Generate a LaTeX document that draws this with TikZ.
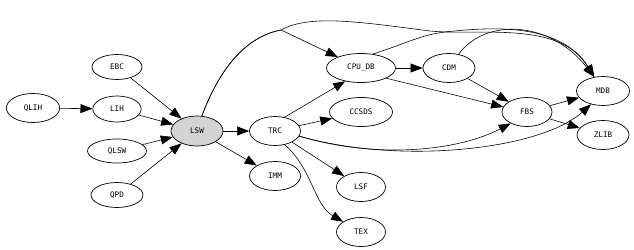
\documentclass[tikz,border=0pt]{standalone}
\usepackage{fontspec}
\setmonofont{DejaVu Sans Mono}
\usepackage{tikz}
\usetikzlibrary{arrows.meta, shapes.geometric}
\definecolor{lswgray}{HTML}{D3D3D3}

\begin{document}
\begin{tikzpicture}[x=0.03cm, y=-0.03cm,
    module/.style={draw, ellipse, line width=0.6pt, inner sep=0pt, minimum width=1.53cm, minimum height=0.87cm, font=\ttfamily\fontsize{6.5}{7}\selectfont},
    edge/.style={line width=0.5pt, -{Triangle[length=0.36cm, width=0.27cm]}}]
    \useasboundingbox (0,0) rectangle (634,250);

    % left column
    \node[module, minimum width=1.6cm] (qlih) at (33,108) {QLIH};
    \node[module, minimum width=1.5cm, minimum height=0.75cm] (ebc) at (117,67) {EBC};
    \node[module, minimum width=1.45cm, minimum height=0.78cm] (lih) at (117,109) {LIH};
    \node[module, minimum width=1.77cm, minimum height=0.72cm] (qlsw) at (117,151) {QLSW};
    \node[module, minimum width=1.56cm, minimum height=0.75cm] (qpd) at (117,195) {QPD};
    \node[module, fill=lswgray, minimum width=1.56cm, minimum height=0.9cm] (lsw) at (197,131) {LSW};

    % middle
    \node[module] (trc) at (275,131) {TRC};
    \node[module] (imm) at (275,176) {IMM};
    \node[module, minimum width=2.07cm] (cpudb) at (361,68) {CPU\_DB};
    \node[module, minimum width=1.89cm] (ccsds) at (361,112) {CCSDS};
    \node[module, minimum width=1.47cm] (lsf) at (361,187) {LSF};
    \node[module, minimum width=1.47cm] (tex) at (361,232) {TEX};

    % right
    \node[module, minimum width=1.56cm] (cdm) at (449,68) {CDM};
    \node[module, minimum width=1.5cm] (fbs) at (527,112) {FBS};
    \node[module, minimum width=1.59cm] (mdb) at (603,91) {MDB};
    \node[module, minimum width=1.56cm] (zlib) at (603,135) {ZLIB};

    \coordinate (fork) at (281,30);

    \draw[edge] (qlih) -- (lih);
    \draw[edge] (ebc) -- (lsw);
    \draw[edge] (lih) -- (lsw);
    \draw[edge] (qlsw) -- (lsw);
    \draw[edge] (qpd) -- (lsw);
    \draw[edge] (lsw) -- (trc);
    \draw[edge] (lsw) -- (imm);
    \draw[edge] (lsw.72) .. controls (222,62) and (250,36) .. (fork) -- (cpudb);
    \draw[edge] (lsw.72) .. controls (222,62) and (250,36) .. (fork)
        .. controls (310,14) and (360,22) .. (430,31)
        .. controls (480,36) and (560,20) .. (mdb.122);
    \draw[edge] (cpudb) -- (cdm);
    \draw[edge] (cpudb.50) .. controls (405,44) and (420,35) .. (445,32)
        .. controls (490,27) and (560,22) .. (mdb.122);
    \draw[edge] (cpudb.-22) -- (fbs.168);
    \draw[edge] (cdm.55) .. controls (485,18) and (550,20) .. (mdb.122);
    \draw[edge] (cdm) -- (fbs);
    \draw[edge] (trc.55) -- (cpudb.220);
    \draw[edge] (trc) -- (ccsds);
    \draw[edge] (trc) -- (lsf);
    \draw[edge] (trc.-55) .. controls (312,168) and (314,205) .. (tex.150);
    \draw[edge] (trc.-12) .. controls (380,160) and (460,150) .. (fbs.215);
    \draw[edge] (trc.-12) .. controls (400,165) and (540,150) .. (mdb.228);
    \draw[edge] (fbs) -- (mdb);
    \draw[edge] (fbs) -- (zlib);
\end{tikzpicture}
\end{document}
